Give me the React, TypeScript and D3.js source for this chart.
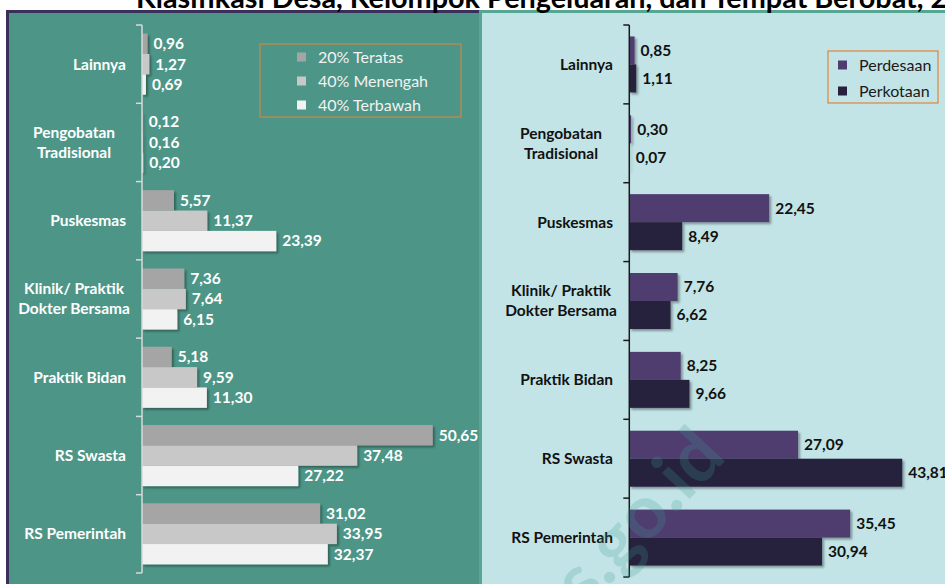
import React from "react";
import * as d3 from "d3";

const categories = [
  "Lainnya",
  "Pengobatan Tradisional",
  "Puskesmas",
  "Klinik/ Praktik Dokter Bersama",
  "Praktik Bidan",
  "RS Swasta",
  "RS Pemerintah",
];
const categoryLines = [
  ["Lainnya"],
  ["Pengobatan", "Tradisional"],
  ["Puskesmas"],
  ["Klinik/ Praktik", "Dokter Bersama"],
  ["Praktik Bidan"],
  ["RS Swasta"],
  ["RS Pemerintah"],
];

const expSeries = ["20% Teratas", "40% Menengah", "40% Terbawah"];
const top20 = [0.96, 0.12, 5.57, 7.36, 5.18, 50.65, 31.02];
const mid40 = [1.27, 0.16, 11.37, 7.64, 9.59, 37.48, 33.95];
const bottom40 = [0.69, 0.2, 23.39, 6.15, 11.3, 27.22, 32.37];
const expValues = [top20, mid40, bottom40];
const expColors = ["#A5A5A5", "#C8C8C8", "#F2F2F2"];

const areaSeries = ["Perdesaan", "Perkotaan"];
const rural = [0.85, 0.3, 22.45, 7.76, 8.25, 27.09, 35.45];
const urban = [1.11, 0.07, 8.49, 6.62, 9.66, 43.81, 30.94];
const areaValues = [rural, urban];
const areaColors = ["#503D70", "#28203C"];

const titleText = "Klasifikasi Desa, Kelompok Pengeluaran, dan Tempat Berobat, 20";
const watermarkText = "bps.go.id";

const FONT = "Lato, 'Open Sans', sans-serif";
const fmt = (v: number) => d3.format(".2f")(v).replace(".", ",");

function Panel(props: {
  series: string[];
  values: number[][];
  colors: string[];
  x: d3.ScaleLinear<number, number>;
  yRange: [number, number];
  pad: number;
  axisColor: string;
  textColor: string;
  labelRight: number;
  labelGap: number;
}) {
  const { series, values, colors, x, yRange, pad, axisColor, textColor, labelRight, labelGap } = props;
  const y = d3.scaleBand<string>().domain(categories).range(yRange).padding(0);
  const bw = y.bandwidth();
  const inner = d3.scaleBand<string>().domain(series).range([bw * pad, bw * (1 - pad)]).padding(0);
  const x0 = x(0);
  const ticks = d3.range(categories.length + 1).map((i) => yRange[0] + i * bw);
  return (
    <g>
      {series.map((s, si) => (
        <g key={s} filter="url(#shadow)">
          {categories.map((c, ci) => (
            <rect
              key={c}
              x={x0}
              y={(y(c) as number) + (inner(s) as number)}
              width={x(values[si][ci]) - x0}
              height={inner.bandwidth()}
              fill={colors[si]}
            />
          ))}
        </g>
      ))}
      {series.map((s, si) => (
        <g key={s + "l"}>
          {categories.map((c, ci) => (
            <text
              key={c}
              x={x(values[si][ci]) + labelGap}
              y={(y(c) as number) + (inner(s) as number) + inner.bandwidth() / 2}
              dy="0.35em"
              fill={textColor}
              fontFamily={FONT}
              fontWeight={700}
              fontSize={15.5}
            >
              {fmt(values[si][ci])}
            </text>
          ))}
        </g>
      ))}
      <line x1={x0} x2={x0} y1={yRange[0]} y2={yRange[1]} stroke={axisColor} strokeWidth={1.5} />
      {ticks.map((t, i) => (
        <line key={i} x1={x0 - 6} x2={x0} y1={t} y2={t} stroke={axisColor} strokeWidth={1.5} />
      ))}
      {categories.map((c, ci) => {
        const lines = categoryLines[ci];
        const cy = (y(c) as number) + bw / 2;
        const lh = 20;
        return (
          <text
            key={c}
            fill={textColor}
            fontFamily={FONT}
            fontWeight={700}
            fontSize={15.5}
            textAnchor={lines.length > 1 ? "middle" : "end"}
          >
            {lines.map((ln, li) => (
              <tspan
                key={li}
                x={lines.length > 1 ? labelRight - 52 : labelRight}
                y={cy + (li - (lines.length - 1) / 2) * lh}
                dy="0.35em"
              >
                {ln}
              </tspan>
            ))}
          </text>
        );
      })}
    </g>
  );
}

export default function App() {
  const xLeft = d3.scaleLinear().domain([0, 55]).range([142, 142 + 55 * 5.74]);
  const xRight = d3.scaleLinear().domain([0, 45]).range([629.3, 629.3 + 45 * 6.23]);

  return (
    <svg
      width={945}
      height={584}
      style={{ position: "absolute", left: 0, top: 0, background: "#FFFFFF" }}
    >
      <defs>
        <filter id="shadow" x="-5%" y="-20%" width="115%" height="160%">
          <feDropShadow dx="2" dy="2" stdDeviation="1" floodColor="#000" floodOpacity="0.35" />
        </filter>
      </defs>
      {/* left panel */}
      <rect x={6} y={10} width={473} height={600} fill="#4D9687" />
      <rect x={6} y={10} width={473} height={3} fill="#3A2E5A" />
      <rect x={6} y={10} width={3} height={600} fill="#3A2E5A" />
      {/* right panel */}
      <rect x={479} y={10} width={470} height={600} fill="#57A593" />
      <rect x={482} y={13} width={470} height={600} fill="#C2E4E6" />

      <text x={136} y={7.5} fontFamily={FONT} fontWeight={700} fontSize={28.8} fill="#000">
        {titleText}
      </text>

      <Panel
        series={expSeries}
        values={expValues}
        colors={expColors}
        x={xLeft}
        yRange={[25, 573]}
        pad={0.11}
        axisColor="#D9D9D9"
        textColor="#FFFFFF"
        labelRight={126}
        labelGap={6}
      />
      <Panel
        series={areaSeries}
        values={areaValues}
        colors={areaColors}
        x={xRight}
        yRange={[25, 577]}
        pad={0.145}
        axisColor="#1A1A1A"
        textColor="#111111"
        labelRight={613}
        labelGap={6}
      />

      {/* watermark, drawn over the bars */}
      <text
        x={728}
        y={458}
        transform="rotate(-47 728 458)"
        textAnchor="end"
        fontFamily={FONT}
        fontWeight={700}
        fontSize={74}
        fill="#3F9C98"
        opacity={0.22}
      >
        {watermarkText}
      </text>

      {/* legend left */}
      <rect x={260} y={44} width={201} height={73} fill="none" stroke="#E0843A" strokeWidth={1} />
      {expSeries.map((s, i) => (
        <g key={s}>
          <rect x={297} y={57 + i * 24 - 4.5} width={9} height={9} fill={expColors[i]} />
          <text x={318} y={57 + i * 24} dy="0.35em" fontFamily={FONT} fontSize={16} fill="#F2F2F2">
            {s}
          </text>
        </g>
      ))}
      {/* legend right */}
      <rect x={828} y={51} width={110} height={52} fill="none" stroke="#E0843A" strokeWidth={1.2} />
      {areaSeries.map((s, i) => (
        <g key={s}>
          <rect x={838} y={65 + i * 26 - 4.5} width={9} height={9} fill={areaColors[i]} />
          <text x={859} y={65 + i * 26} dy="0.35em" fontFamily={FONT} fontSize={16} fill="#1A1A1A">
            {s}
          </text>
        </g>
      ))}
    </svg>
  );
}
